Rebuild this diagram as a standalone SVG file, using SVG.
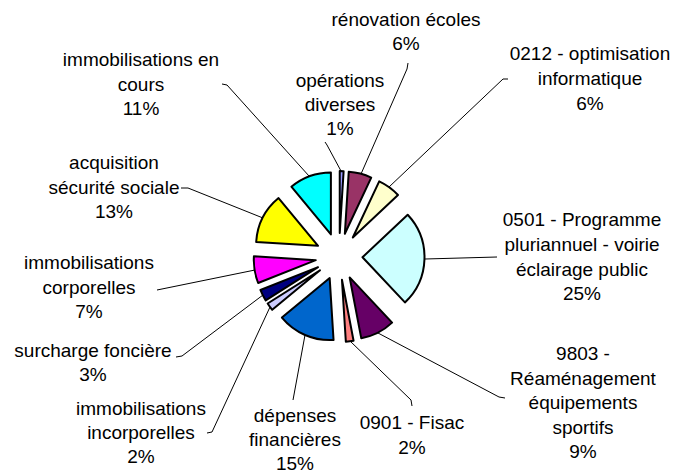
<svg xmlns="http://www.w3.org/2000/svg" width="677" height="474" viewBox="0 0 677 474">
<style>
.s{stroke:#000;stroke-width:2;stroke-linejoin:round}
.l{fill:none;stroke:#000;stroke-width:1}
text{font-family:"Liberation Sans",Arial,sans-serif;font-size:19px;fill:#000;text-anchor:middle}
</style>
<rect width="677" height="474" fill="#fff"/>
<g id="connectors">
<polyline class="l" points="408,63 407,69 361,174"/>
<polyline class="l" points="508,79 503,79 389,187"/>
<polyline class="l" points="325,142 327,145 341,171"/>
<polyline class="l" points="222,84 227,85 309,176"/>
<polyline class="l" points="181,188 188,188 263,218"/>
<polyline class="l" points="157,290 255,270"/>
<polyline class="l" points="176,357 182,356 263,295"/>
<polyline class="l" points="207,433 212,432 270,307"/>
<polyline class="l" points="293,400 305,335"/>
<polyline class="l" points="412,406 411,400 350,341"/>
<polyline class="l" points="505,398 499,397 378,333"/>
<polyline class="l" points="425,259 497,257"/>
</g>
<g id="n1" transform="translate(0.74,-23.49)"><path class="s" fill="#9999FF" d="M339,256.5 L339,194.5 A62,62 0 0 1 342.89,194.62 Z"/></g>
<g id="n2" transform="translate(5.84,-22.76)"><path class="s" fill="#993366" d="M339,256.5 L342.89,194.62 A62,62 0 0 1 365.40,200.40 Z"/></g>
<g id="n3" transform="translate(13.81,-19.01)"><path class="s" fill="#FFFFCC" d="M339,256.5 L365.40,200.40 A62,62 0 0 1 384.20,214.06 Z"/></g>
<g id="n4" transform="translate(23.49,0.74)"><path class="s" fill="#CCFFFF" d="M339,256.5 L384.20,214.06 A62,62 0 0 1 381.44,301.70 Z"/></g>
<g id="n5" transform="translate(10.67,20.94)"><path class="s" fill="#660066" d="M339,256.5 L381.44,301.70 A62,62 0 0 1 350.62,317.40 Z"/></g>
<g id="n6" transform="translate(2.95,23.31)"><path class="s" fill="#FF8080" d="M339,256.5 L350.62,317.40 A62,62 0 0 1 342.89,318.38 Z"/></g>
<g id="n7" transform="translate(-9.33,21.57)"><path class="s" fill="#0066CC" d="M339,256.5 L342.89,318.38 A62,62 0 0 1 291.23,296.02 Z"/></g>
<g id="n8" transform="translate(-19.01,13.81)"><path class="s" fill="#CCCCFF" d="M339,256.5 L291.23,296.02 A62,62 0 0 1 286.65,289.72 Z"/></g>
<g id="n9" transform="translate(-20.94,10.67)"><path class="s" fill="#000080" d="M339,256.5 L286.65,289.72 A62,62 0 0 1 281.35,279.32 Z"/></g>
<g id="n10" transform="translate(-23.21,3.68)"><path class="s" fill="#FF00FF" d="M339,256.5 L281.35,279.32 A62,62 0 0 1 277.12,252.61 Z"/></g>
<g id="n11" transform="translate(-20.94,-10.67)"><path class="s" fill="#FFFF00" d="M339,256.5 L277.12,252.61 A62,62 0 0 1 299.48,208.73 Z"/></g>
<g id="n12" transform="translate(-8.11,-22.05)"><path class="s" fill="#00FFFF" d="M339,256.5 L299.48,208.73 A62,62 0 0 1 339,194.5 Z"/></g>
<g id="t1"><text x="406" y="26">rénovation écoles</text><text x="406" y="50">6%</text></g>
<g id="t2"><text x="590" y="60">0212 - optimisation</text><text x="590" y="85">informatique</text><text x="590" y="110">6%</text></g>
<g id="t3"><text x="340" y="87">opérations</text><text x="340" y="111">diverses</text><text x="340" y="135">1%</text></g>
<g id="t4"><text x="141" y="66">immobilisations en</text><text x="141" y="91">cours</text><text x="141" y="115">11%</text></g>
<g id="t5"><text x="114" y="169">acquisition</text><text x="114" y="194">sécurité sociale</text><text x="114" y="218">13%</text></g>
<g id="t6"><text x="89" y="269">immobilisations</text><text x="89" y="294">corporelles</text><text x="89" y="318">7%</text></g>
<g id="t7"><text x="93" y="357">surcharge foncière</text><text x="93" y="381">3%</text></g>
<g id="t8"><text x="141" y="415">immobilisations</text><text x="141" y="439">incorporelles</text><text x="141" y="463">2%</text></g>
<g id="t9"><text x="295" y="422">dépenses</text><text x="295" y="446">financières</text><text x="295" y="470">15%</text></g>
<g id="t10"><text x="412" y="429">0901 - Fisac</text><text x="412" y="454">2%</text></g>
<g id="t11"><text x="583" y="360">9803 -</text><text x="583" y="385">Réaménagement</text><text x="583" y="409">équipements</text><text x="583" y="434">sportifs</text><text x="583" y="458">9%</text></g>
<g id="t12"><text x="582" y="226">0501 - Programme</text><text x="582" y="251">pluriannuel - voirie</text><text x="582" y="276">éclairage public</text><text x="582" y="300">25%</text></g>
</svg>
